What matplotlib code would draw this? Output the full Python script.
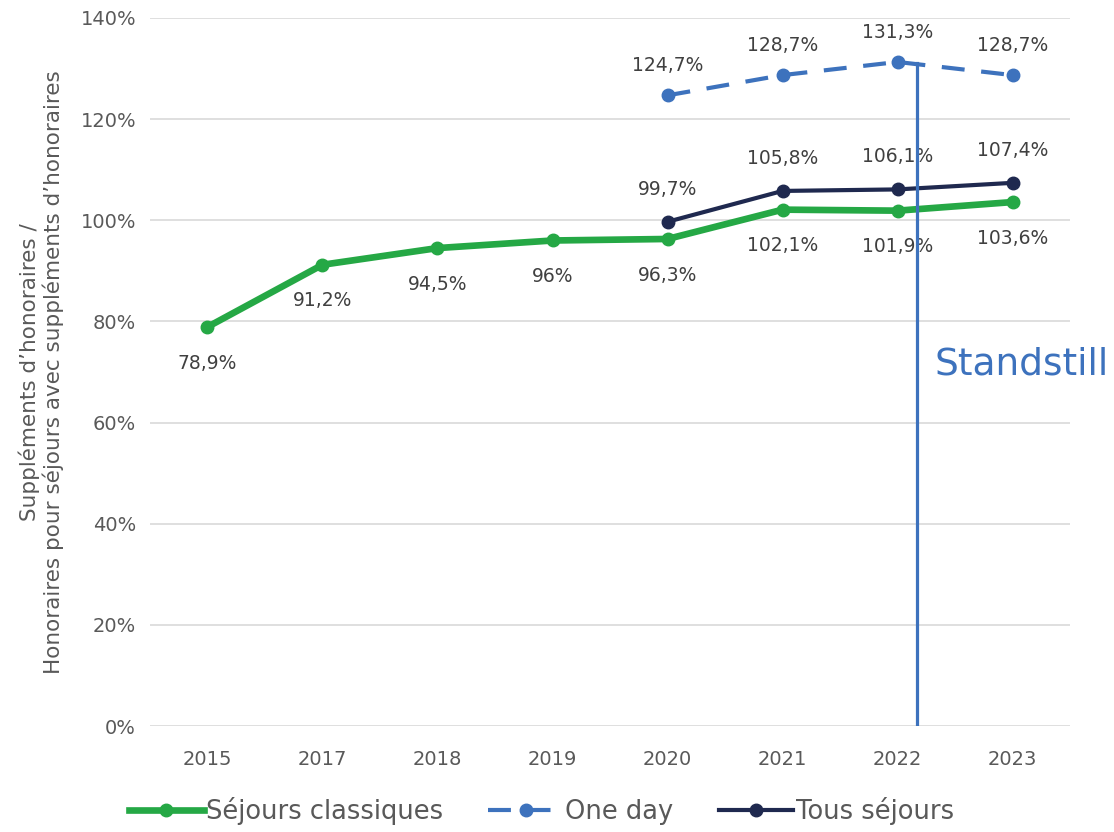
import numpy as np
import matplotlib.pyplot as plt

years = ['2015', '2017', '2018', '2019', '2020', '2021', '2022', '2023']
classiques = [78.9, 91.2, 94.5, 96.0, 96.3, 102.1, 101.9, 103.6]
one_day = [np.nan, np.nan, np.nan, np.nan, 124.7, 128.7, 131.3, 128.7]
tous = [np.nan, np.nan, np.nan, np.nan, 99.7, 105.8, 106.1, 107.4]
labels_classiques = ['78,9%', '91,2%', '94,5%', '96%', '96,3%', '102,1%', '101,9%', '103,6%']
labels_one_day = ['', '', '', '', '124,7%', '128,7%', '131,3%', '128,7%']
labels_tous = ['', '', '', '', '99,7%', '105,8%', '106,1%', '107,4%']
standstill_pos = 6.17
standstill_top = 131.0

green = '#25A845'
blue = '#3D72BD'
navy = '#1F294F'
grey = '#595959'

plt.rcParams['font.family'] = ['DejaVu Sans']

fig = plt.figure(figsize=(11.14, 8.32), dpi=100)
ax = fig.add_axes([0.1346, 0.1274, 0.826, 0.8510])

x = np.arange(len(years))

ax.plot(x, classiques, color=green, lw=4.8, marker='o', ms=9, label='Séjours classiques', zorder=3)
ax.plot(x, one_day, color=blue, lw=3, ls=(0, (5.5, 4)), marker='o', ms=9, label='One day', zorder=3)
ax.plot(x, tous, color=navy, lw=3, marker='o', ms=9, label='Tous séjours', zorder=4)

for xi, v, t in zip(x, classiques, labels_classiques):
    ax.annotate(t, (xi, v), xytext=(0, -26), textcoords='offset points',
                ha='center', va='center', fontsize=13.5, color='#404040')
for xi, v, t in zip(x, one_day, labels_one_day):
    if t:
        ax.annotate(t, (xi, v), xytext=(0, 21.5), textcoords='offset points',
                    ha='center', va='center', fontsize=13.5, color='#404040')
for xi, v, t in zip(x, tous, labels_tous):
    if t:
        ax.annotate(t, (xi, v), xytext=(0, 23.5), textcoords='offset points',
                    ha='center', va='center', fontsize=13.5, color='#404040')

# standstill marker line
ax.plot([standstill_pos, standstill_pos], [0, standstill_top], color=blue, lw=2.3, zorder=6)
ax.text(standstill_pos + 0.15, 71.5, 'Standstill', color=blue, fontsize=27, va='center', ha='left')

ax.set_xlim(-0.5, len(years) - 0.5)
ax.set_ylim(0, 140)
ax.set_xticks(x)
ax.set_xticklabels(years)
ax.set_yticks(np.arange(0, 141, 20))
ax.set_yticklabels([f'{v}%' for v in range(0, 141, 20)])
ax.tick_params(length=0, labelsize=14, colors=grey)
ax.tick_params(axis='x', pad=17)
ax.tick_params(axis='y', pad=10)
ax.grid(axis='y', color='#D9D9D9', lw=1.2)
ax.set_axisbelow(True)
for s in ax.spines.values():
    s.set_visible(False)

ax.set_ylabel("Suppléments d’honoraires /\nHonoraires pour séjours avec suppléments d’honoraires",
              fontsize=15.5, color=grey, linespacing=1.15, labelpad=12)

leg = ax.legend(loc='upper center', bbox_to_anchor=(0.4255, -0.068), ncol=3, frameon=False,
                fontsize=18.5, handlelength=2.9, columnspacing=1.75, handletextpad=0.1)
for t in leg.get_texts():
    t.set_color(grey)

fig.savefig('out.png', dpi=100)
